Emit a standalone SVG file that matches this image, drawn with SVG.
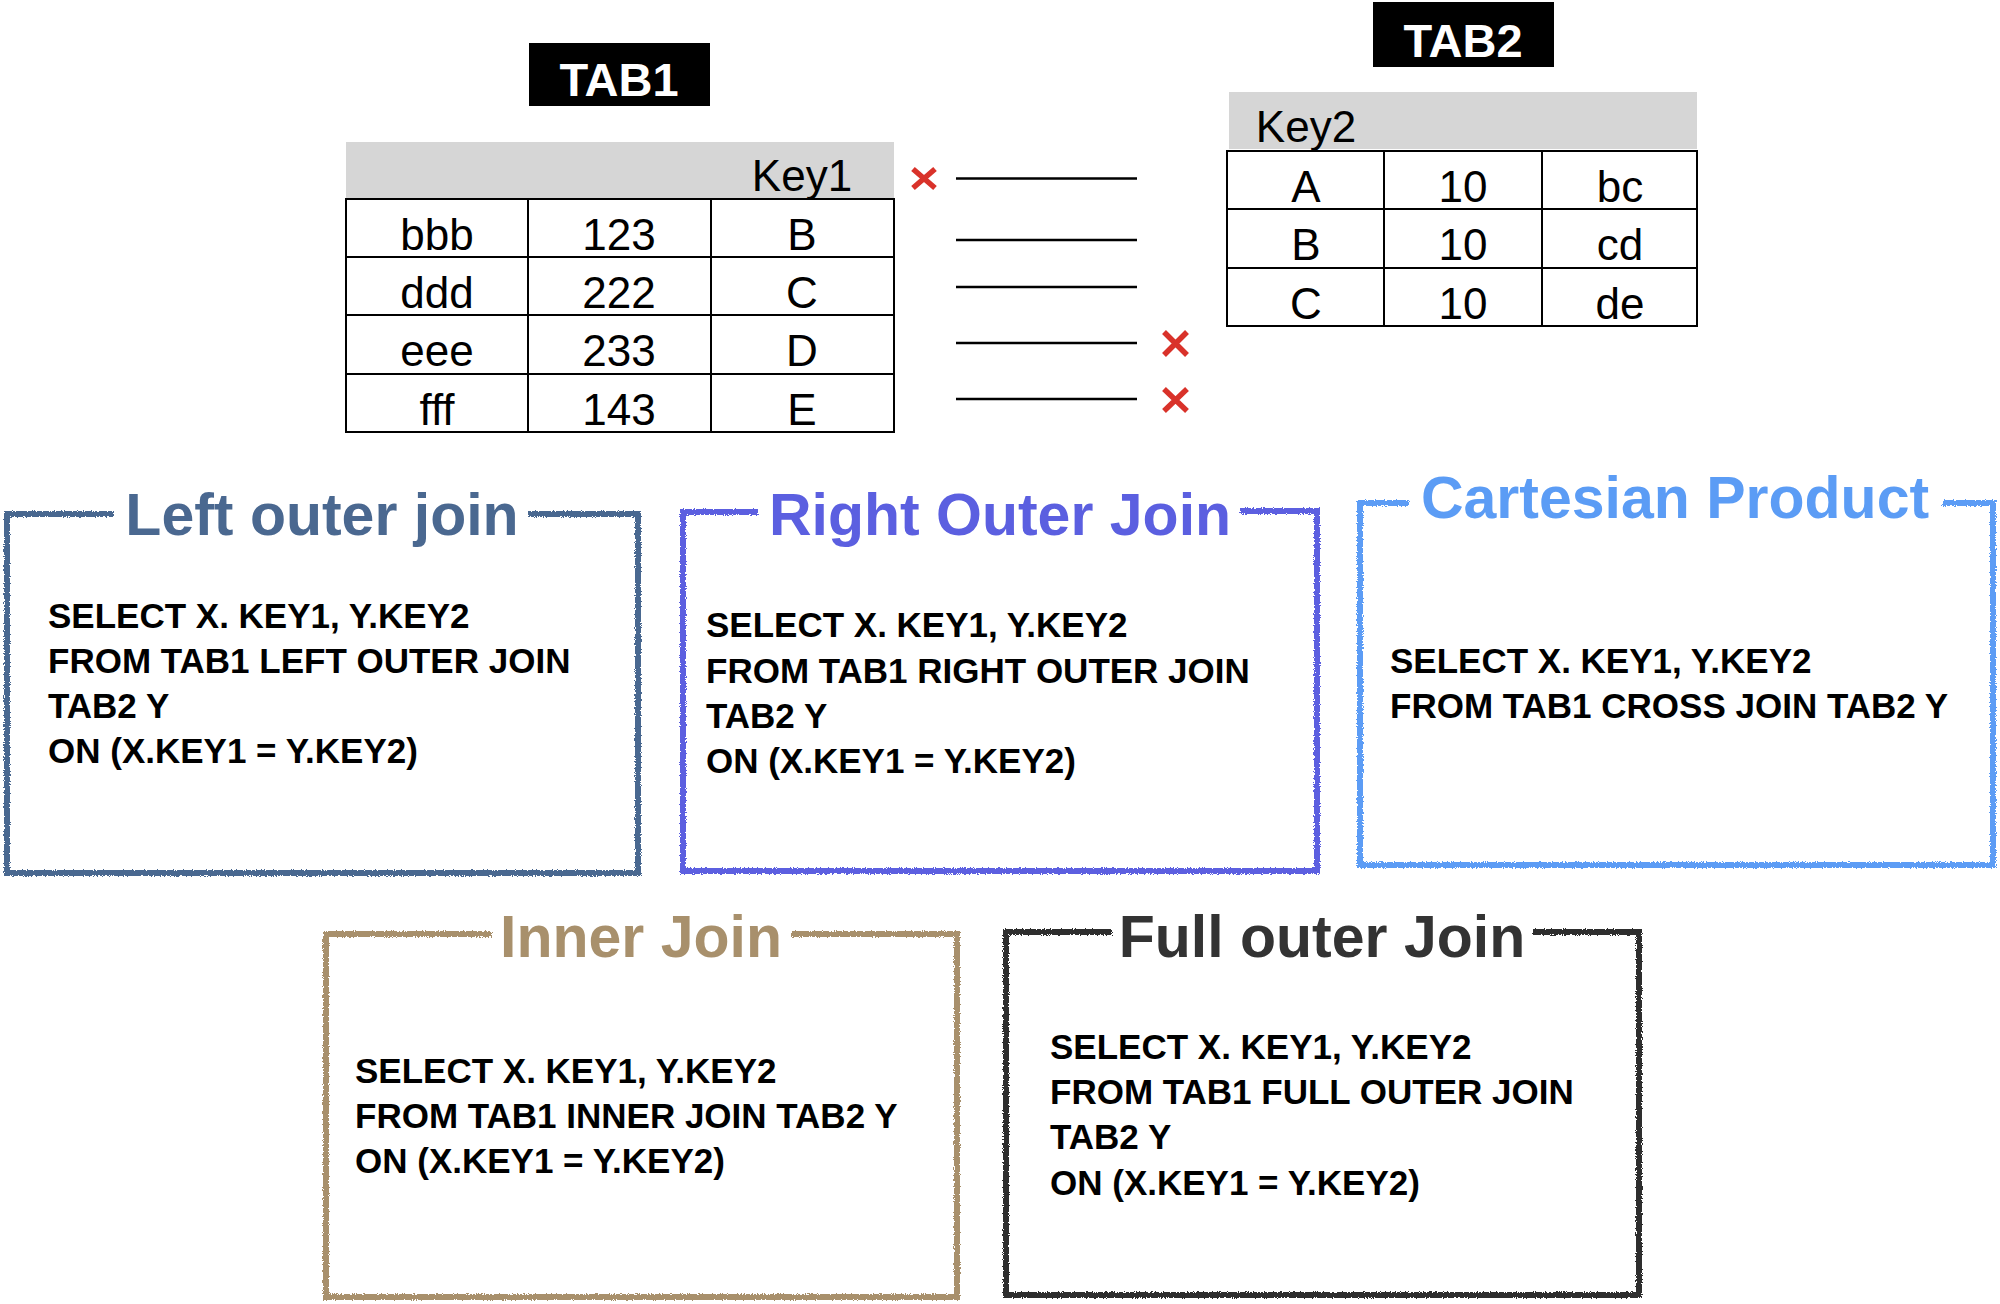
<svg xmlns="http://www.w3.org/2000/svg" width="2000" height="1304" viewBox="0 0 2000 1304">
<defs>
<style>
.cell{font-family:"Liberation Sans",Arial,sans-serif;font-size:44px;fill:#000;text-anchor:middle}
.lbl{font-family:"Liberation Sans",Arial,sans-serif;font-weight:bold;font-size:47px;fill:#fff;text-anchor:middle}
.title{font-family:"Liberation Sans",Arial,sans-serif;font-weight:bold;font-size:59px;text-anchor:middle}
.sql{font-family:"Liberation Sans",Arial,sans-serif;font-weight:bold;font-size:35px;fill:#000}
.grid{fill:none;stroke:#000;stroke-width:2}
.hdr{fill:#d6d6d6}
.frame{fill:none;stroke-width:6;stroke-linejoin:miter;filter:url(#rough)}
.conn{stroke:#000;stroke-width:2.7}
.cross{stroke:#d9322a;stroke-width:5.5;stroke-linecap:butt}
</style>
<filter id="rough" x="-3%" y="-3%" width="106%" height="106%">
<feTurbulence type="fractalNoise" baseFrequency="0.9" numOctaves="2" seed="3" result="n"/>
<feDisplacementMap in="SourceGraphic" in2="n" scale="4" xChannelSelector="R" yChannelSelector="G"/>
</filter>
</defs>
<rect width="2000" height="1304" fill="#fff"/>

<g id="tab1">
<rect x="529" y="43" width="181" height="63" fill="#000"/>
<text class="lbl" x="619" y="96">TAB1</text>
<rect class="hdr" x="346" y="142" width="548" height="56"/>
<text class="cell" x="802" y="191">Key1</text>
<rect class="grid" x="346" y="199" width="548" height="233"/>
<line class="grid" x1="346" y1="257" x2="894" y2="257"/>
<line class="grid" x1="346" y1="315" x2="894" y2="315"/>
<line class="grid" x1="346" y1="374" x2="894" y2="374"/>
<line class="grid" x1="528" y1="199" x2="528" y2="432"/>
<line class="grid" x1="711" y1="199" x2="711" y2="432"/>
<text class="cell" x="437" y="250">bbb</text>
<text class="cell" x="619" y="250">123</text>
<text class="cell" x="802" y="250">B</text>
<text class="cell" x="437" y="308">ddd</text>
<text class="cell" x="619" y="308">222</text>
<text class="cell" x="802" y="308">C</text>
<text class="cell" x="437" y="366">eee</text>
<text class="cell" x="619" y="366">233</text>
<text class="cell" x="802" y="366">D</text>
<text class="cell" x="437" y="425">fff</text>
<text class="cell" x="619" y="425">143</text>
<text class="cell" x="802" y="425">E</text>
</g>

<g id="tab2">
<rect x="1373" y="2" width="181" height="65" fill="#000"/>
<text class="lbl" x="1463" y="57">TAB2</text>
<rect class="hdr" x="1229" y="92" width="468" height="57"/>
<text class="cell" x="1306" y="142">Key2</text>
<rect class="grid" x="1227" y="151" width="470" height="175"/>
<line class="grid" x1="1227" y1="209" x2="1697" y2="209"/>
<line class="grid" x1="1227" y1="268" x2="1697" y2="268"/>
<line class="grid" x1="1384" y1="151" x2="1384" y2="326"/>
<line class="grid" x1="1542" y1="151" x2="1542" y2="326"/>
<text class="cell" x="1306" y="202">A</text>
<text class="cell" x="1463" y="202">10</text>
<text class="cell" x="1620" y="202">bc</text>
<text class="cell" x="1306" y="260">B</text>
<text class="cell" x="1463" y="260">10</text>
<text class="cell" x="1620" y="260">cd</text>
<text class="cell" x="1306" y="319">C</text>
<text class="cell" x="1463" y="319">10</text>
<text class="cell" x="1620" y="319">de</text>
</g>

<g id="connectors">
<line class="conn" x1="956" y1="178.5" x2="1137" y2="178.5"/>
<line class="conn" x1="956" y1="240" x2="1137" y2="240"/>
<line class="conn" x1="956" y1="287" x2="1137" y2="287"/>
<line class="conn" x1="956" y1="343" x2="1137" y2="343"/>
<line class="conn" x1="956" y1="399" x2="1137" y2="399"/>
</g>

<g id="marks">
<path class="cross" d="M913,169 L935,188 M935,169 L913,188"/>
<path class="cross" d="M1164,332 L1187,355 M1187,332 L1164,355"/>
<path class="cross" d="M1164,389 L1187,411 M1187,389 L1164,411"/>
</g>

<g id="left-outer-join">
<path class="frame" stroke="#4a6890" d="M114,514 L7,514 L7,873 L638,873 L638,514 L528,514"/>
<text class="title" fill="#4a6890" x="322" y="535">Left outer join</text>
<text class="sql" x="48" y="628">SELECT X. KEY1, Y.KEY2</text>
<text class="sql" x="48" y="673">FROM TAB1 LEFT OUTER JOIN</text>
<text class="sql" x="48" y="718">TAB2 Y</text>
<text class="sql" x="48" y="763">ON (X.KEY1 = Y.KEY2)</text>
</g>

<g id="right-outer-join">
<path class="frame" stroke="#5b5fe0" d="M758,512 L683,512 L683,871 L1317,871 L1317,511 L1240,511"/>
<text class="title" fill="#5b5fe0" x="1000" y="535">Right Outer Join</text>
<text class="sql" x="706" y="637">SELECT X. KEY1, Y.KEY2</text>
<text class="sql" x="706" y="683">FROM TAB1 RIGHT OUTER JOIN</text>
<text class="sql" x="706" y="728">TAB2 Y</text>
<text class="sql" x="706" y="773">ON (X.KEY1 = Y.KEY2)</text>
</g>

<g id="cartesian-product">
<path class="frame" stroke="#5b9cf5" d="M1409,503 L1360,503 L1360,865 L1993,865 L1993,503 L1942,503"/>
<text class="title" fill="#5b9cf5" x="1675" y="518">Cartesian Product</text>
<text class="sql" x="1390" y="673">SELECT X. KEY1, Y.KEY2</text>
<text class="sql" x="1390" y="718">FROM TAB1 CROSS JOIN TAB2 Y</text>
</g>

<g id="inner-join">
<path class="frame" stroke="#a8906c" d="M492,934 L326,934 L326,1297 L957,1297 L957,934 L791,934"/>
<text class="title" fill="#a8906c" x="641" y="957">Inner Join</text>
<text class="sql" x="355" y="1083">SELECT X. KEY1, Y.KEY2</text>
<text class="sql" x="355" y="1128">FROM TAB1 INNER JOIN TAB2 Y</text>
<text class="sql" x="355" y="1173">ON (X.KEY1 = Y.KEY2)</text>
</g>

<g id="full-outer-join">
<path class="frame" stroke="#2e2e2e" d="M1112,932 L1006,932 L1006,1295 L1639,1295 L1639,932 L1533,932"/>
<text class="title" fill="#333333" x="1322" y="957">Full outer Join</text>
<text class="sql" x="1050" y="1059">SELECT X. KEY1, Y.KEY2</text>
<text class="sql" x="1050" y="1104">FROM TAB1 FULL OUTER JOIN</text>
<text class="sql" x="1050" y="1149">TAB2 Y</text>
<text class="sql" x="1050" y="1195">ON (X.KEY1 = Y.KEY2)</text>
</g>
</svg>
